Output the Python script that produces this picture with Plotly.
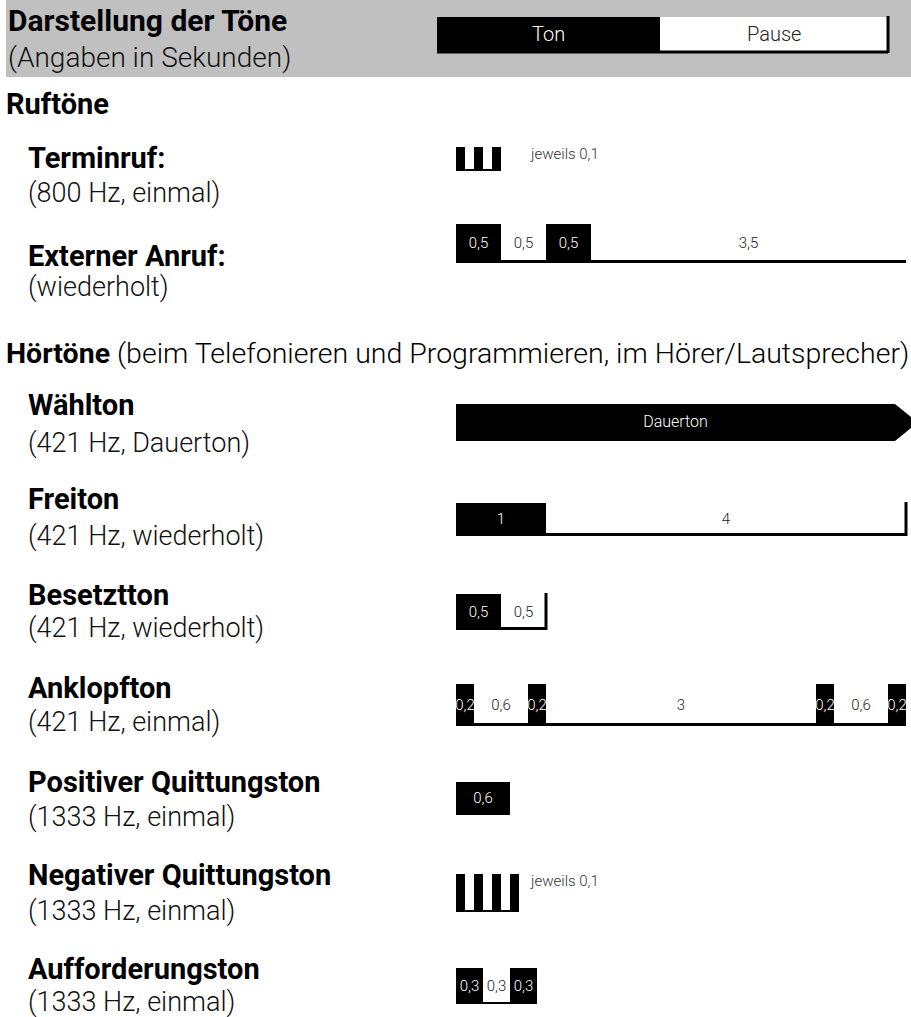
import plotly.graph_objects as go

# ---------------- data (durations in seconds) ----------------
terminruf_kind = ["Ton", "Pause", "Ton", "Pause", "Ton"]
terminruf_dur = [0.1, 0.1, 0.1, 0.1, 0.1]

extern_kind = ["Ton", "Pause", "Ton", "Pause"]
extern_dur = [0.5, 0.5, 0.5, 3.5]

freiton_kind = ["Ton", "Pause"]
freiton_dur = [1, 4]

besetzt_kind = ["Ton", "Pause"]
besetzt_dur = [0.5, 0.5]

anklopf_kind = ["Ton", "Pause", "Ton", "Pause", "Ton", "Pause", "Ton"]
anklopf_dur = [0.2, 0.6, 0.2, 3, 0.2, 0.6, 0.2]

positiv_kind = ["Ton"]
positiv_dur = [0.6]

negativ_kind = ["Ton", "Pause", "Ton", "Pause", "Ton", "Pause", "Ton"]
negativ_dur = [0.1, 0.1, 0.1, 0.1, 0.1, 0.1, 0.1]

aufford_kind = ["Ton", "Pause", "Ton"]
aufford_dur = [0.3, 0.3, 0.3]

waehlton_label = "Dauerton"
jeweils_label = "jeweils 0,1"

# ---------------- layout constants (pixels) ----------------
W, H = 911, 1017
PX_PER_S = 90.0
X0_PX = 456
FONT = "Roboto"
BOLD_SIZE = 29
REG_SIZE = 27

x_min = -X0_PX / PX_PER_S
x_max = (W - X0_PX) / PX_PER_S

def fmt(d):
    return f"{d:g}".replace(".", ",")

rows = [
    dict(title="Terminruf:", sub="(800 Hz, einmal)", ty=158, sy=193, top=147, bot=171,
         kinds=terminruf_kind, durs=terminruf_dur, labels=False, note=jeweils_label, tick=False, lw=2),
    dict(title="Externer Anruf:", sub="(wiederholt)", ty=256, sy=287, top=224, bot=263,
         kinds=extern_kind, durs=extern_dur, labels=True, note=None, tick=False, lw=3),
    dict(title="Wählton", sub="(421 Hz, Dauerton)", ty=405, sy=443, top=404, bot=441,
         kinds=None, durs=None, labels=True, note=None, tick=False, lw=3),
    dict(title="Freiton", sub="(421 Hz, wiederholt)", ty=499, sy=536, top=503, bot=536,
         kinds=freiton_kind, durs=freiton_dur, labels=True, note=None, tick=True, lw=3),
    dict(title="Besetztton", sub="(421 Hz, wiederholt)", ty=595, sy=628, top=594, bot=630,
         kinds=besetzt_kind, durs=besetzt_dur, labels=True, note=None, tick=True, lw=3),
    dict(title="Anklopfton", sub="(421 Hz, einmal)", ty=688, sy=722, top=684, bot=726,
         kinds=anklopf_kind, durs=anklopf_dur, labels=True, note=None, tick=False, lw=3),
    dict(title="Positiver Quittungston", sub="(1333 Hz, einmal)", ty=782, sy=817, top=782, bot=815,
         kinds=positiv_kind, durs=positiv_dur, labels=True, note=None, tick=False, lw=2),
    dict(title="Negativer Quittungston", sub="(1333 Hz, einmal)", ty=875, sy=911, top=874, bot=912,
         kinds=negativ_kind, durs=negativ_dur, labels=False, note=jeweils_label, tick=False, lw=2),
    dict(title="Aufforderungston", sub="(1333 Hz, einmal)", ty=969, sy=1002, top=968, bot=1004,
         kinds=aufford_kind, durs=aufford_dur, labels=True, note=None, tick=False, lw=2),
]

fig = go.Figure()
annotations = []
shapes = []

def add_text(x_px, y_px, text, size, bold=False, color="#000", anchor="left", weight=None):
    f = dict(family=FONT, size=size, color=color)
    if weight is not None:
        f["weight"] = weight
    annotations.append(dict(
        x=x_px / W, xref="paper", y=y_px, yref="y", text=(f"<b>{text}</b>" if bold else text),
        showarrow=False, xanchor=anchor, yanchor="middle", font=f))

TX = 26  # left edge of row titles (annotation box)
for r in rows:
    add_text(TX, r["ty"], r["title"], BOLD_SIZE, bold=True)
    add_text(TX, r["sy"], r["sub"], REG_SIZE, color="#111", weight=300)
    yc = (r["top"] + r["bot"]) / 2
    h = r["bot"] - r["top"]
    if r["kinds"] is None:
        # continuous tone: arrow-shaped bar running off to the right
        head = 16 / PX_PER_S
        body_end = x_max - head
        tip = body_end + (h / 2) * (16 / 13) / PX_PER_S
        fig.add_trace(go.Scatter(
            x=[0, body_end, tip, body_end, 0, 0],
            y=[r["top"], r["top"], yc, r["bot"], r["bot"], r["top"]],
            mode="lines", fill="toself", fillcolor="#000", line=dict(width=0, color="#000"),
            hoverinfo="skip", showlegend=False))
        fig.add_trace(go.Scatter(
            x=[body_end / 2], y=[yc], mode="text", text=[waehlton_label],
            textfont=dict(family=FONT, size=16, color="#fff", weight=300),
            hoverinfo="skip", showlegend=False))
        continue
    starts = []
    acc = 0.0
    for d in r["durs"]:
        starts.append(acc)
        acc += d
    total = acc
    # baseline
    fig.add_trace(go.Scatter(x=[0, total], y=[r["bot"] - r["lw"] / 2] * 2, mode="lines",
                             line=dict(color="#000", width=r["lw"]), hoverinfo="skip", showlegend=False))
    tb = [s for s, k in zip(starts, r["kinds"]) if k == "Ton"]
    td = [d for d, k in zip(r["durs"], r["kinds"]) if k == "Ton"]
    fig.add_trace(go.Bar(orientation="h", base=tb, x=td, y=[yc] * len(td), width=h,
                         marker=dict(color="#000", line=dict(width=0)),
                         hoverinfo="skip", showlegend=False))
    if r["tick"]:
        fig.add_trace(go.Scatter(x=[total, total], y=[r["top"] - 1, r["bot"]], mode="lines",
                                 line=dict(color="#000", width=3), hoverinfo="skip", showlegend=False))
    if r["labels"]:
        xs = [s + d / 2 for s, d in zip(starts, r["durs"])]
        txt = [fmt(d) for d in r["durs"]]
        cols = ["#fff" if k == "Ton" else "#222" for k in r["kinds"]]
        fig.add_trace(go.Scatter(x=xs, y=[yc + 1] * len(xs), mode="text", text=txt,
                                 textfont=dict(family=FONT, size=15, color=cols, weight=300),
                                 hoverinfo="skip", showlegend=False, cliponaxis=True))
    if r["note"]:
        fig.add_trace(go.Scatter(x=[(531 - X0_PX) / PX_PER_S], y=[r["top"] + 8], mode="text",
                                 text=[r["note"]], textposition="middle right",
                                 textfont=dict(family=FONT, size=15, color="#333", weight=300),
                                 hoverinfo="skip", showlegend=False))

# section headings
add_text(4, 104, "Ruftöne", BOLD_SIZE, bold=True)
annotations.append(dict(
    x=4 / W, xref="paper", y=353, yref="y", showarrow=False, xanchor="left", yanchor="middle",
    text="<b>Hörtöne</b> (beim Telefonieren und Programmieren, im Hörer/Lautsprecher)",
    font=dict(family=FONT, size=28.5, color="#000", weight=300)))

# header band
shapes.append(dict(type="rect", xref="paper", yref="y", x0=6 / W, x1=1, y0=0, y1=77,
                   fillcolor="#c0c0c0", line=dict(width=0), layer="below"))
add_text(6, 20, "Darstellung der Töne", 30, bold=True)
add_text(6, 57, "(Angaben in Sekunden)", 28, color="#111", weight=300)

# header legend (Ton / Pause)
lx0, lmid, lx1, ltop, lbot = 437, 660, 888, 17, 51
shapes.append(dict(type="rect", xref="paper", yref="y", x0=lx0 / W, x1=lmid / W, y0=ltop, y1=lbot,
                   fillcolor="#000", line=dict(width=0)))
shapes.append(dict(type="rect", xref="paper", yref="y", x0=lmid / W, x1=lx1 / W, y0=ltop, y1=lbot,
                   fillcolor="#fff", line=dict(width=0)))
shapes.append(dict(type="line", xref="paper", yref="y", x0=lx0 / W, x1=lx1 / W, y0=lbot + 1, y1=lbot + 1,
                   line=dict(color="#000", width=3)))
shapes.append(dict(type="line", xref="paper", yref="y", x0=lx1 / W, x1=lx1 / W, y0=ltop - 1, y1=lbot + 2,
                   line=dict(color="#000", width=3)))
add_text((lx0 + lmid) / 2, (ltop + lbot) / 2, "Ton", 20, color="#fff", anchor="center", weight=300)
add_text((lmid + lx1) / 2, (ltop + lbot) / 2, "Pause", 20, color="#222", anchor="center", weight=300)

fig.update_layout(
    width=W, height=H, margin=dict(l=0, r=0, t=0, b=0),
    paper_bgcolor="#fff", plot_bgcolor="#fff", barmode="overlay", bargap=0,
    showlegend=False, annotations=annotations, shapes=shapes,
    xaxis=dict(range=[x_min, x_max], visible=False, fixedrange=True),
    yaxis=dict(range=[H, 0], visible=False, fixedrange=True),
    font=dict(family=FONT),
)

fig.write_html("out.html", config={"displayModeBar": False},
               post_script="document.body.style.margin='0';document.body.style.overflow='hidden';")
